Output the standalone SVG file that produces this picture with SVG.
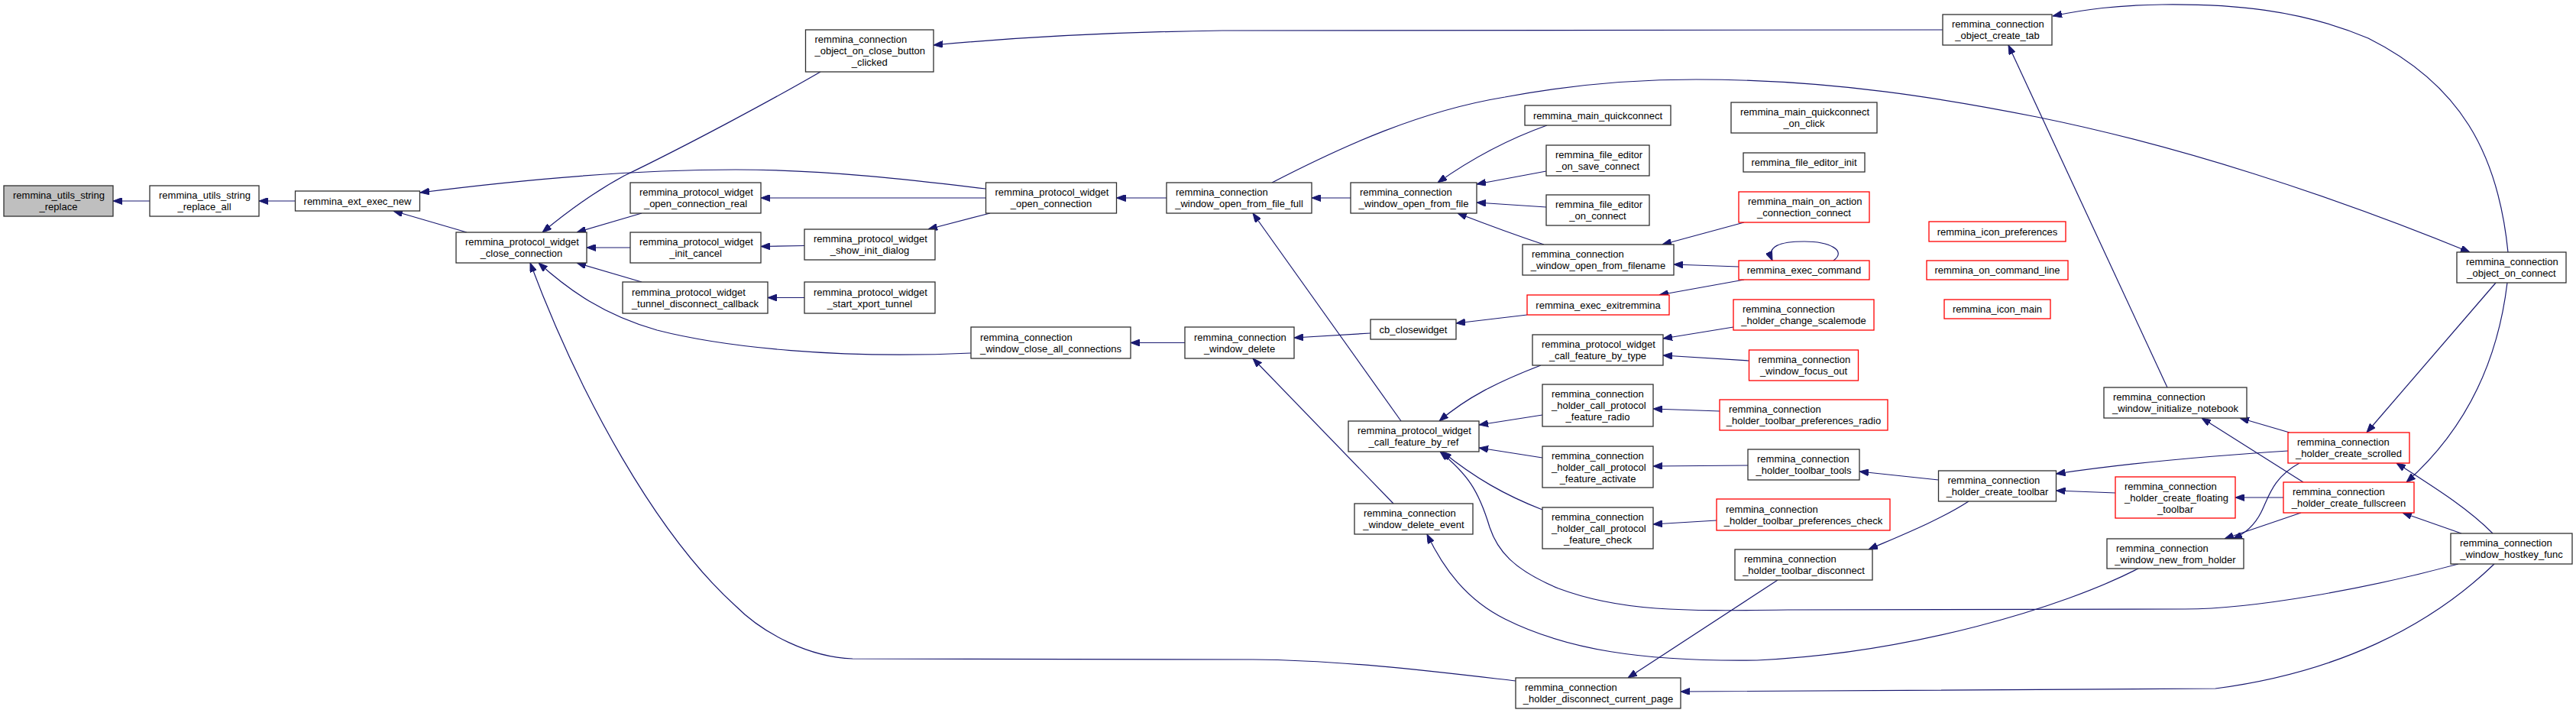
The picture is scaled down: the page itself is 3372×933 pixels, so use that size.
<svg xmlns="http://www.w3.org/2000/svg" width="3372" height="933" viewBox="0 0 3372 933">
<style>
.n rect{fill:#fff;stroke:#303030;stroke-width:1.3}
.n.red rect{stroke:#ff0000}
.n.root rect{fill:#bfbfbf}
text{font-family:"Liberation Sans",Arial,Helvetica,sans-serif;font-size:13px;fill:#000}
.c{text-anchor:middle}
.e path{fill:none;stroke:#191970;stroke-width:1.2;marker-end:url(#ah)}
</style>
<defs>
<marker id="ah" viewBox="0 0 12 9" refX="12" refY="4.5" markerWidth="12" markerHeight="9" markerUnits="userSpaceOnUse" orient="auto"><path d="M0,0 L12,4.5 L0,9 z" fill="#191970" stroke="#191970" stroke-width="1"/></marker>
</defs>
<rect width="3372" height="933" fill="#fff"/>
<g id="edges" class="e">
<path d="M196,263 L148,263"/>
<path d="M386.5,263 L339,263"/>
<path d="M1290,247 C1200,236 1080,222 963,222 C820,222 660,238 550,252"/>
<path d="M611,304 L515,276"/>
<path d="M1074,94 C1010,131 900,190 817,230 C780,250 745,275 710,304"/>
<path d="M840,279 L755,304"/>
<path d="M825,324 L768,324"/>
<path d="M840,369 L755,344"/>
<path d="M1271,462 C1100,470 950,455 860,432 C790,412 745,380 705,344"/>
<path d="M1984,891 C1880,879 1760,864 1640,863 L1116,862 C1060,860 1000,830 963,793 C860,700 760,520 694,344"/>
<path d="M1053,389.5 L1005,389.5"/>
<path d="M1053,321.5 L996,322.5"/>
<path d="M1290.5,259 L996,259"/>
<path d="M1296,279 L1215,300"/>
<path d="M1527,259 L1461.5,259"/>
<path d="M2543,39 L1600,40 C1450,42 1320,50 1222,59"/>
<path d="M1551,448.5 L1480,448.5"/>
<path d="M1768,259 L1717,259"/>
<path d="M1834,551 L1640,279"/>
<path d="M1824,659 L1640,469"/>
<path d="M2025,164 C1980,180 1930,205 1882,239"/>
<path d="M2024,224 L1933,241"/>
<path d="M2024,271 L1933,265"/>
<path d="M2021,320 Q1970,303 1908,279"/>
<path d="M2283,366 L2172,386"/>
<path d="M2276,349 L2191,346"/>
<path d="M2283,291 L2176,320"/>
<path d="M2400,341 C2418,328 2395,316 2362,316 C2330,316 2312,322 2320,341"/>
<path d="M1999,412 L1906,423"/>
<path d="M1794,436 L1694,442"/>
<path d="M2017,478 C1960,500 1920,520 1884,551"/>
<path d="M2019,543 L1936,556"/>
<path d="M2019,599 L1936,586"/>
<path d="M2019,667 C1970,648 1930,625 1888,591"/>
<path d="M2269,428 L2177,443"/>
<path d="M2289.5,472 L2177,465"/>
<path d="M2251,538 L2164,535"/>
<path d="M2288,609 L2164,610"/>
<path d="M2247,681 L2164,686"/>
<path d="M2327,759 L2131,887"/>
<path d="M2799,744 C2700,795 2500,855 2300,864 C2150,866 2050,850 1970,810 C1920,785 1890,745 1868,699"/>
<path d="M3265,738 C3180,820 3060,880 2900,901 L2200,905"/>
<path d="M3218,738 C3100,770 2950,797 2860,797 L2340,798 C2200,800 2120,800 2040,770 C1980,745 1960,720 1950,690 C1935,640 1920,620 1885,591"/>
<path d="M2577,656 C2540,680 2490,700 2446,719"/>
<path d="M2537.5,628 L2434,617"/>
<path d="M2769,645 L2691.5,642"/>
<path d="M2995,590 C2900,596 2800,604 2691.5,620"/>
<path d="M2837,507 L2629,59"/>
<path d="M2997,566 L2932,547"/>
<path d="M3015,631 L2882,547"/>
<path d="M2989,651 L2926,651"/>
<path d="M3010,606 C2975,625 2970,650 2960,670 C2950,690 2935,700 2923,705"/>
<path d="M3012,671 L2912,705"/>
<path d="M3263,698 C3230,665 3190,640 3137,606"/>
<path d="M3222,698 L3145,671"/>
<path d="M3267,370 L3098,566"/>
<path d="M3282,370 C3270,470 3230,560 3150,631"/>
<path d="M3283,330 C3270,200 3220,110 3100,50 C3010,12 2920,5 2830,6 C2770,7 2730,12 2687,21"/>
<path d="M1665,239 C1760,190 1860,145 1970,127 C2060,110 2150,104 2220,104 C2400,104 2550,130 2666,153 C2850,190 3050,255 3233,330"/>
</g>
<g id="n1" class="n root"><rect x="5" y="243" width="143" height="40"/><text x="17" y="260">remmina_utils_string</text><text class="c" x="76.5" y="275">_replace</text></g>
<g id="n2" class="n"><rect x="196" y="243" width="143" height="40"/><text x="208" y="260">remmina_utils_string</text><text class="c" x="267.5" y="275">_replace_all</text></g>
<g id="n3" class="n"><rect x="386.5" y="250" width="163" height="26"/><text class="c" x="468" y="267.5">remmina_ext_exec_new</text></g>
<g id="n4" class="n"><rect x="597" y="304" width="171" height="40"/><text x="609" y="321">remmina_protocol_widget</text><text class="c" x="682.5" y="336">_close_connection</text></g>
<g id="n5" class="n"><rect x="825" y="239" width="171" height="40"/><text x="837" y="256">remmina_protocol_widget</text><text class="c" x="910.5" y="271">_open_connection_real</text></g>
<g id="n6" class="n"><rect x="825" y="304" width="171" height="40"/><text x="837" y="321">remmina_protocol_widget</text><text class="c" x="910.5" y="336">_init_cancel</text></g>
<g id="n7" class="n"><rect x="815" y="369" width="190" height="41"/><text x="827" y="386.5">remmina_protocol_widget</text><text class="c" x="910" y="401.5">_tunnel_disconnect_callback</text></g>
<g id="n8" class="n"><rect x="1054.5" y="39" width="167.5" height="55"/><text x="1066.5" y="56">remmina_connection</text><text x="1066.5" y="71">_object_on_close_button</text><text class="c" x="1138.25" y="86">_clicked</text></g>
<g id="n9" class="n"><rect x="1053" y="300" width="171" height="40"/><text x="1065" y="317">remmina_protocol_widget</text><text class="c" x="1138.5" y="332">_show_init_dialog</text></g>
<g id="n10" class="n"><rect x="1053" y="369" width="171" height="41"/><text x="1065" y="386.5">remmina_protocol_widget</text><text class="c" x="1138.5" y="401.5">_start_xport_tunnel</text></g>
<g id="n11" class="n"><rect x="1290.5" y="239" width="171" height="40"/><text x="1302.5" y="256">remmina_protocol_widget</text><text class="c" x="1376" y="271">_open_connection</text></g>
<g id="n12" class="n"><rect x="1527" y="239" width="190" height="40"/><text x="1539" y="256">remmina_connection</text><text class="c" x="1622" y="271">_window_open_from_file_full</text></g>
<g id="n13" class="n"><rect x="1271" y="428" width="209" height="41"/><text x="1283" y="445.5">remmina_connection</text><text class="c" x="1375.5" y="460.5">_window_close_all_connections</text></g>
<g id="n14" class="n"><rect x="1551" y="428" width="143" height="41"/><text x="1563" y="445.5">remmina_connection</text><text class="c" x="1622.5" y="460.5">_window_delete</text></g>
<g id="n15" class="n"><rect x="1768" y="239" width="165" height="40"/><text x="1780" y="256">remmina_connection</text><text class="c" x="1850.5" y="271">_window_open_from_file</text></g>
<g id="n16" class="n"><rect x="1996" y="138" width="191" height="26"/><text class="c" x="2091.5" y="155.5">remmina_main_quickconnect</text></g>
<g id="n17" class="n"><rect x="2024" y="190" width="135" height="40"/><text x="2036" y="207">remmina_file_editor</text><text class="c" x="2091.5" y="222">_on_save_connect</text></g>
<g id="n18" class="n"><rect x="2024" y="255" width="135" height="40"/><text x="2036" y="272">remmina_file_editor</text><text class="c" x="2091.5" y="287">_on_connect</text></g>
<g id="n19" class="n"><rect x="1993" y="320" width="198" height="40"/><text x="2005" y="337">remmina_connection</text><text class="c" x="2092" y="352">_window_open_from_filename</text></g>
<g id="n20" class="n red"><rect x="1999" y="386" width="186" height="26"/><text class="c" x="2092" y="403.5">remmina_exec_exitremmina</text></g>
<g id="n21" class="n"><rect x="1794" y="418" width="112" height="26"/><text class="c" x="1850" y="435.5">cb_closewidget</text></g>
<g id="n22" class="n"><rect x="2006" y="438" width="171" height="40"/><text x="2018" y="455">remmina_protocol_widget</text><text class="c" x="2091.5" y="470">_call_feature_by_type</text></g>
<g id="n23" class="n"><rect x="2266" y="134" width="191" height="40"/><text x="2278" y="151">remmina_main_quickconnect</text><text class="c" x="2361.5" y="166">_on_click</text></g>
<g id="n24" class="n"><rect x="2282" y="200" width="159" height="25"/><text class="c" x="2361.5" y="217">remmina_file_editor_init</text></g>
<g id="n25" class="n red"><rect x="2276" y="251" width="171" height="40"/><text x="2288" y="268">remmina_main_on_action</text><text class="c" x="2361.5" y="283">_connection_connect</text></g>
<g id="n26" class="n red"><rect x="2276" y="341" width="171" height="25"/><text class="c" x="2361.5" y="358">remmina_exec_command</text></g>
<g id="n27" class="n red"><rect x="2269" y="392" width="184" height="40"/><text x="2281" y="409">remmina_connection</text><text class="c" x="2361" y="424">_holder_change_scalemode</text></g>
<g id="n28" class="n red"><rect x="2289.5" y="458" width="143" height="40"/><text x="2301.5" y="475">remmina_connection</text><text class="c" x="2361" y="490">_window_focus_out</text></g>
<g id="n29" class="n"><rect x="1765" y="551" width="171" height="40"/><text x="1777" y="568">remmina_protocol_widget</text><text class="c" x="1850.5" y="583">_call_feature_by_ref</text></g>
<g id="n30" class="n"><rect x="2019" y="503" width="145" height="55"/><text x="2031" y="520">remmina_connection</text><text x="2031" y="535">_holder_call_protocol</text><text class="c" x="2091.5" y="550">_feature_radio</text></g>
<g id="n31" class="n"><rect x="2019" y="584" width="145" height="54"/><text x="2031" y="600.5">remmina_connection</text><text x="2031" y="615.5">_holder_call_protocol</text><text class="c" x="2091.5" y="630.5">_feature_activate</text></g>
<g id="n32" class="n"><rect x="2019" y="664" width="145" height="54"/><text x="2031" y="680.5">remmina_connection</text><text x="2031" y="695.5">_holder_call_protocol</text><text class="c" x="2091.5" y="710.5">_feature_check</text></g>
<g id="n33" class="n"><rect x="1773" y="659" width="155" height="40"/><text x="1785" y="676">remmina_connection</text><text class="c" x="1850.5" y="691">_window_delete_event</text></g>
<g id="n34" class="n"><rect x="1984" y="887" width="216" height="40"/><text x="1996" y="904">remmina_connection</text><text class="c" x="2092" y="919">_holder_disconnect_current_page</text></g>
<g id="n35" class="n red"><rect x="2251" y="523" width="220" height="40"/><text x="2263" y="540">remmina_connection</text><text class="c" x="2361" y="555">_holder_toolbar_preferences_radio</text></g>
<g id="n36" class="n"><rect x="2288" y="588" width="146" height="40"/><text x="2300" y="605">remmina_connection</text><text class="c" x="2361" y="620">_holder_toolbar_tools</text></g>
<g id="n37" class="n red"><rect x="2247" y="653" width="227" height="41"/><text x="2259" y="670.5">remmina_connection</text><text class="c" x="2360.5" y="685.5">_holder_toolbar_preferences_check</text></g>
<g id="n38" class="n"><rect x="2271" y="719" width="180" height="40"/><text x="2283" y="736">remmina_connection</text><text class="c" x="2361" y="751">_holder_toolbar_disconnect</text></g>
<g id="n39" class="n"><rect x="2543" y="19" width="143" height="40"/><text x="2555" y="36">remmina_connection</text><text class="c" x="2614.5" y="51">_object_create_tab</text></g>
<g id="n40" class="n red"><rect x="2525" y="290" width="179" height="26"/><text class="c" x="2614.5" y="307.5">remmina_icon_preferences</text></g>
<g id="n41" class="n red"><rect x="2522" y="341" width="185" height="25"/><text class="c" x="2614.5" y="358">remmina_on_command_line</text></g>
<g id="n42" class="n red"><rect x="2545" y="392" width="139" height="25"/><text class="c" x="2614.5" y="409">remmina_icon_main</text></g>
<g id="n43" class="n"><rect x="2537.5" y="616" width="154" height="40"/><text x="2549.5" y="633">remmina_connection</text><text class="c" x="2614.5" y="648">_holder_create_toolbar</text></g>
<g id="n44" class="n"><rect x="2754" y="507" width="187" height="40"/><text x="2766" y="524">remmina_connection</text><text class="c" x="2847.5" y="539">_window_initialize_notebook</text></g>
<g id="n45" class="n red"><rect x="2769" y="624" width="157" height="54"/><text x="2781" y="640.5">remmina_connection</text><text x="2781" y="655.5">_holder_create_floating</text><text class="c" x="2847.5" y="670.5">_toolbar</text></g>
<g id="n46" class="n"><rect x="2758" y="705" width="179" height="39"/><text x="2770" y="721.5">remmina_connection</text><text class="c" x="2847.5" y="736.5">_window_new_from_holder</text></g>
<g id="n47" class="n"><rect x="3216" y="330" width="143" height="40"/><text x="3228" y="347">remmina_connection</text><text class="c" x="3287.5" y="362">_object_on_connect</text></g>
<g id="n48" class="n red"><rect x="2995" y="566" width="159" height="40"/><text x="3007" y="583">remmina_connection</text><text class="c" x="3074.5" y="598">_holder_create_scrolled</text></g>
<g id="n49" class="n red"><rect x="2989" y="631" width="171" height="40"/><text x="3001" y="648">remmina_connection</text><text class="c" x="3074.5" y="663">_holder_create_fullscreen</text></g>
<g id="n50" class="n"><rect x="3208" y="698" width="159" height="40"/><text x="3220" y="715">remmina_connection</text><text class="c" x="3287.5" y="730">_window_hostkey_func</text></g>
</svg>
